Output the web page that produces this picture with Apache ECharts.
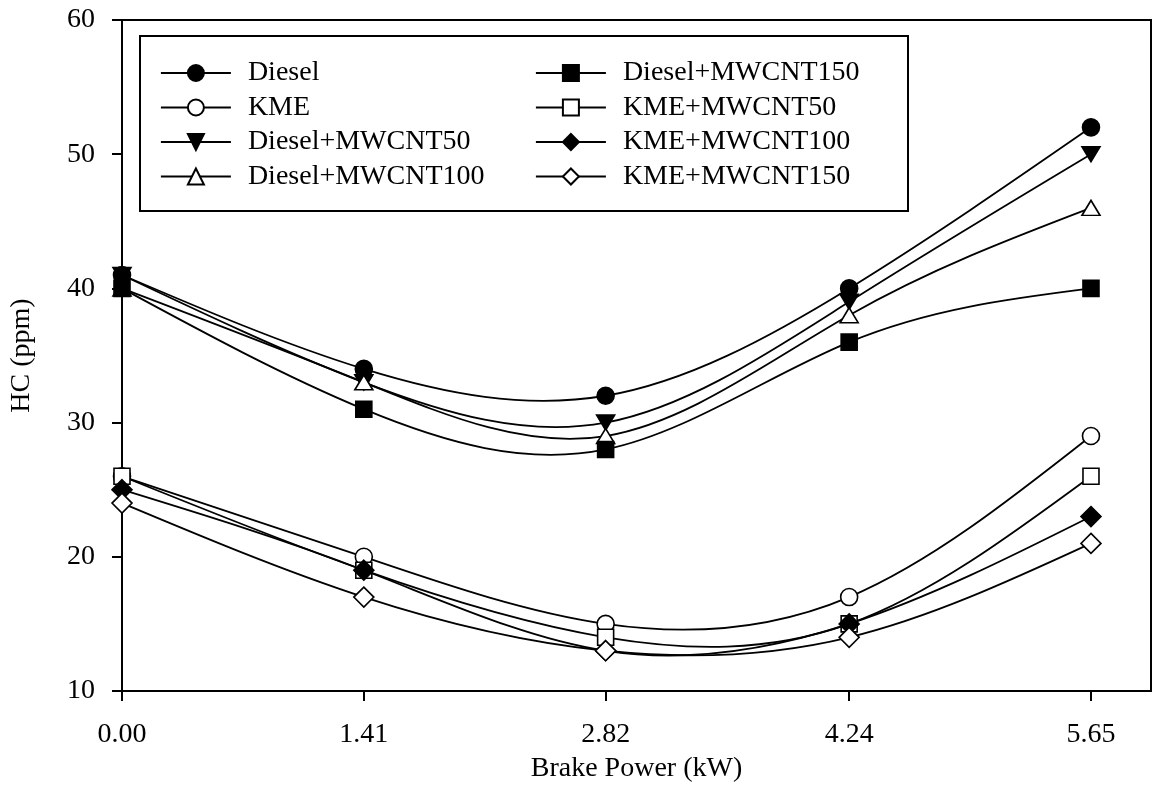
<!DOCTYPE html>
<html>
<head>
<meta charset="utf-8">
<script src="https://cdn.jsdelivr.net/npm/echarts@6/dist/echarts.min.js"></script>
<style>html,body{margin:0;padding:0;background:#fff;}#c{width:1155px;height:807px;}</style>
</head>
<body>
<div id="c"></div>
<script>
const xValues = [0, 1.41, 2.82, 4.24, 5.65];
const xTickLabels = ['0.00', '1.41', '2.82', '4.24', '5.65'];
const yTicks = [10, 20, 30, 40, 50, 60];

const diesel = [41, 34, 32, 40, 52];
const kme = [26, 20, 15, 17, 29];
const dieselCnt50 = [41, 33, 30, 39, 50];
const dieselCnt100 = [40, 33, 29, 38, 46];
const dieselCnt150 = [40, 31, 28, 36, 40];
const kmeCnt50 = [26, 19, 14, 15, 26];
const kmeCnt100 = [25, 19, 13, 15, 23];
const kmeCnt150 = [24, 17, 13, 14, 21];

const seriesNames = ['Diesel', 'KME', 'Diesel+MWCNT50', 'Diesel+MWCNT100',
  'Diesel+MWCNT150', 'KME+MWCNT50', 'KME+MWCNT100', 'KME+MWCNT150'];
const seriesValues = [diesel, kme, dieselCnt50, dieselCnt100, dieselCnt150, kmeCnt50, kmeCnt100, kmeCnt150];

const downTri = 'path://M0,0 L20,0 L10,17 Z';
const upTri = 'path://M10,0 L20,17 L0,17 Z';
const styles = [
  {symbol: 'circle', fill: '#000', size: 17},
  {symbol: 'circle', fill: '#fff', size: 17},
  {symbol: downTri, fill: '#000', size: [18, 15]},
  {symbol: upTri, fill: '#fff', size: [18, 15]},
  {symbol: 'rect', fill: '#000', size: 16},
  {symbol: 'rect', fill: '#fff', size: 16},
  {symbol: 'diamond', fill: '#000', size: 20},
  {symbol: 'diamond', fill: '#fff', size: 20}
];

const font = 'Liberation Serif';
const lineW = 1.8;

// Natural cubic spline through the pixel points, drawn as exact Bezier segments
function splinePath(pts) {
  const n = pts.length;
  const h = [], M = new Array(n).fill(0);
  for (let i = 0; i < n - 1; i++) h.push(pts[i + 1][0] - pts[i][0]);
  const a = [], b = [], c = [], d = [];
  for (let i = 1; i < n - 1; i++) {
    a.push(h[i - 1]); b.push(2 * (h[i - 1] + h[i])); c.push(h[i]);
    d.push(6 * ((pts[i + 1][1] - pts[i][1]) / h[i] - (pts[i][1] - pts[i - 1][1]) / h[i - 1]));
  }
  const m = b.length;
  for (let i = 1; i < m; i++) {
    const w = a[i] / b[i - 1];
    b[i] -= w * c[i - 1];
    d[i] -= w * d[i - 1];
  }
  const sol = new Array(m);
  for (let i = m - 1; i >= 0; i--) sol[i] = (d[i] - (i < m - 1 ? c[i] * sol[i + 1] : 0)) / b[i];
  for (let i = 0; i < m; i++) M[i + 1] = sol[i];
  let p = 'M' + pts[0][0] + ',' + pts[0][1];
  for (let i = 0; i < n - 1; i++) {
    const hi = h[i];
    const s = (pts[i + 1][1] - pts[i][1]) / hi;
    const d0 = s - hi * (2 * M[i] + M[i + 1]) / 6;
    const d1 = s + hi * (M[i] + 2 * M[i + 1]) / 6;
    const c1x = pts[i][0] + hi / 3, c1y = pts[i][1] + d0 * hi / 3;
    const c2x = pts[i + 1][0] - hi / 3, c2y = pts[i + 1][1] - d1 * hi / 3;
    p += ' C' + c1x + ',' + c1y + ' ' + c2x + ',' + c2y + ' ' + pts[i + 1][0] + ',' + pts[i + 1][1];
  }
  return p;
}

const series = [];
seriesNames.forEach((name, i) => {
  const vals = seriesValues[i];
  series.push({
    name: name + ' curve',
    type: 'custom',
    data: xValues.map((x, j) => [x, vals[j]]),
    encode: {x: 0, y: 1},
    z: 2,
    silent: true,
    renderItem: function (params, api) {
      if (params.dataIndex !== 0) return null;
      const pts = xValues.map((x, j) => api.coord([x, vals[j]]));
      return {
        type: 'path',
        shape: {pathData: splinePath(pts)},
        style: {fill: 'none', stroke: '#000', lineWidth: lineW}
      };
    }
  });
});
seriesNames.forEach((name, i) => {
  series.push({
    name: name,
    type: 'line',
    data: xValues.map((x, j) => [x, seriesValues[i][j]]),
    symbol: styles[i].symbol,
    symbolSize: styles[i].size,
    showAllSymbol: true,
    clip: false,
    lineStyle: {color: '#000', width: lineW, opacity: 0},
    itemStyle: {color: styles[i].fill, borderColor: '#000', borderWidth: 1.6, opacity: 1},
    emphasis: {disabled: true},
    z: 3
  });
});

const legendBase = {
  orient: 'vertical',
  padding: 0,
  itemWidth: 70,
  itemHeight: 20,
  itemGap: 6.5,
  textStyle: {fontFamily: font, fontSize: 28, color: '#000', padding: [0, 0, 0, 12]},
  lineStyle: {color: '#000', width: lineW, opacity: 1, type: 'solid'},
  selectedMode: false,
  inactiveColor: '#000'
};

const chart = echarts.init(document.getElementById('c'), null, {renderer: 'canvas'});
chart.setOption({
  animation: false,
  backgroundColor: '#fff',
  grid: {left: 120, top: 20, right: 4, bottom: 116, show: true, borderColor: '#000', borderWidth: 2, backgroundColor: 'transparent'},
  graphic: [{
    type: 'rect', left: 139, top: 35, z: 1,
    shape: {width: 768, height: 175},
    style: {fill: '#fff', stroke: '#000', lineWidth: 2}
  }],
  legend: [
    Object.assign({}, legendBase, {left: 160, top: 59, data: seriesNames.slice(0, 4)}),
    Object.assign({}, legendBase, {left: 535, top: 59, data: seriesNames.slice(4, 8)})
  ],
  xAxis: {
    type: 'value', min: 0, max: 6,
    name: 'Brake Power (kW)', nameLocation: 'middle', nameGap: 64,
    nameTextStyle: {fontFamily: font, fontSize: 28, color: '#000'},
    axisLine: {show: true, onZero: false, lineStyle: {color: '#000', width: 2}},
    axisTick: {show: true, inside: false, length: 10, lineStyle: {color: '#000', width: 2}, customValues: xValues},
    axisLabel: {fontFamily: font, fontSize: 28, color: '#000', margin: 30,
      customValues: xValues,
      formatter: function (v) { const k = xValues.indexOf(v); return k >= 0 ? xTickLabels[k] : ''; }},
    splitLine: {show: false}
  },
  yAxis: {
    type: 'value', min: 10, max: 60, interval: 10,
    name: 'HC (ppm)', nameLocation: 'middle', nameGap: 86, nameRotate: 90,
    nameTextStyle: {fontFamily: font, fontSize: 28, color: '#000'},
    axisLine: {show: true, lineStyle: {color: '#000', width: 2}},
    axisTick: {show: true, inside: false, length: 10, lineStyle: {color: '#000', width: 2}},
    axisLabel: {fontFamily: font, fontSize: 28, color: '#000', margin: 27,
      formatter: function (v) { return yTicks.indexOf(v) >= 0 ? String(v) : ''; }},
    splitLine: {show: false}
  },
  series: series
});
</script>
</body>
</html>
